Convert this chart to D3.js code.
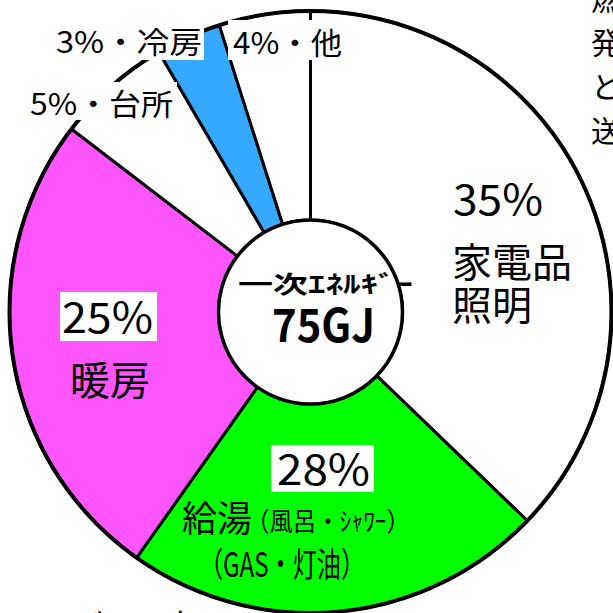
<!DOCTYPE html>
<html>
<head>
<meta charset="utf-8">
<script src="https://cdn.jsdelivr.net/npm/d3@7"></script>
<style>
  body { margin: 0; background: #fff; }
  svg { display: block; }
  text { font-family: "Noto Sans CJK JP", "Noto Sans", sans-serif; fill: #000; }
</style>
</head>
<body>
<script>
// slices, clockwise from 12 o'clock
var categories = ["家電品照明", "給湯", "暖房", "台所", "冷房", "他"];
// slice sizes as drawn in the picture (%)
var shares = [37.2, 22.6, 25.6, 6.2, 3.5, 4.9];
// percentages as printed on the labels
var pctLabels = ["35%", "28%", "25%", "5%", "3%", "4%"];
var totalLabel = ["一次ｴﾈﾙｷﾞｰ", "75GJ"];
var sideText = ["燃", "発", "と", "送"];
var bottomText = "ト゛ル高";

var width = 613, height = 613;
var cx = 310.5, cy = 312;
var outerR = 301, innerR = 92;

var color = d3.scaleOrdinal()
    .domain(categories)
    .range(["#ffffff", "#00ff00", "#ff55ff", "#ffffff", "#35a9ff", "#ffffff"]);

var svg = d3.select("body")
    .append("svg")
    .attr("width", width)
    .attr("height", height);

var g = svg.append("g")
    .attr("transform", "translate(" + cx + "," + cy + ")");

var pie = d3.pie().sort(null).value(d => d.v);
var arc = d3.arc().innerRadius(innerR).outerRadius(outerR);

var slices = pie(categories.map((c, i) => ({ c: c, v: shares[i] })));

g.selectAll("path.slice")
    .data(slices)
    .enter()
    .append("path")
    .attr("class", "slice")
    .attr("d", arc)
    .attr("fill", d => color(d.data.c))
    .attr("stroke", "#000")
    .attr("stroke-width", 3)
    .attr("stroke-linejoin", "round");

// outer ring a bit heavier
g.append("circle")
    .attr("r", outerR)
    .attr("fill", "none")
    .attr("stroke", "#000")
    .attr("stroke-width", 4);

// centre disc
g.append("circle")
    .attr("r", innerR)
    .attr("fill", "#fff")
    .attr("stroke", "#000")
    .attr("stroke-width", 3.5);

// helper: text, optionally on a white box [x0, y0, x1, y1]
function label(str, x, y, size, opts) {
    opts = opts || {};
    var grp = svg.append("g");
    if (opts.box) {
        var b = opts.box;
        grp.append("rect")
            .attr("x", b[0])
            .attr("y", b[1])
            .attr("width", b[2] - b[0])
            .attr("height", b[3] - b[1])
            .attr("fill", "#fff");
    }
    var t = grp.append("text")
        .text(str)
        .attr("x", x)
        .attr("y", y)
        .style("font-size", size + "px")
        .style("font-weight", opts.bold ? "bold" : "normal");
    if (opts.len) t.attr("textLength", opts.len).attr("lengthAdjust", "spacingAndGlyphs");
    return t;
}

// 家電品照明
label(pctLabels[0], 453, 215, 42, { len: 90 });
label("家電品", 452, 277, 40, { len: 120 });
label("照明", 452, 320, 40, { len: 80 });

// 暖房
label(pctLabels[2], 62, 333, 42, { len: 91, box: [60, 292, 157, 341] });
label("暖房", 70, 395, 40, { len: 80 });

// 給湯
label(pctLabels[1], 277, 485, 42, { len: 93, box: [271, 445, 374, 492] });
label("給湯", 182, 532, 36, { len: 70 });
label("（風呂・ｼｬﾜｰ）", 246, 531, 26, { len: 164 });
label("（GAS・灯油）", 199, 577, 34, { len: 166 });

// small slices, boxed labels on top
label(pctLabels[4] + "・" + categories[4], 56, 53, 30, { len: 146, box: [52, 22, 204, 60] });
label(pctLabels[5] + "・" + categories[5], 233, 54, 30, { len: 109, box: [228, 20, 345, 60] });
label(pctLabels[3] + "・" + categories[3], 30, 115, 30, { len: 143, box: [26, 82, 177, 120] });

// centre total
label(totalLabel[0], 238, 293, 24, { bold: true, len: 175 });
label(totalLabel[1], 272, 342, 46, { bold: true, len: 103 });

// text cut off at the page edges
sideText.forEach((s, i) => {
    label(s, 591, 10 + i * 44, 30);
});
label(bottomText, 58, 636, 30, { len: 140 });
</script>
</body>
</html>
